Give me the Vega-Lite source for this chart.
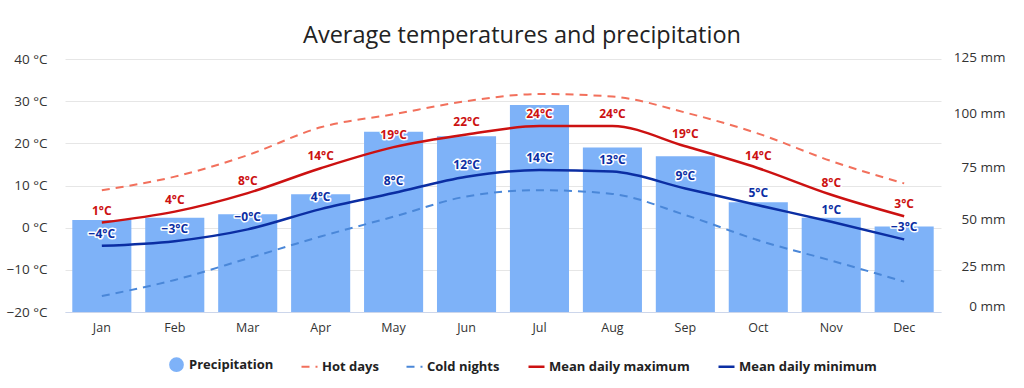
{
  "$schema": "https://vega.github.io/schema/vega-lite/v6.json",
  "width": 876,
  "height": 253,
  "autosize": "none",
  "padding": {"left": 65, "top": 59, "right": 83, "bottom": 76},
  "background": "white",
  "title": {
    "text": "Average temperatures and precipitation",
    "font": "Open Sans",
    "fontSize": 23.5,
    "fontWeight": "normal",
    "color": "#222222",
    "anchor": "middle",
    "baseline": "alphabetic",
    "offset": 10,
    "dx": 19,
    "dy": 26
  },
  "config": {
    "view": {"stroke": null},
    "font": "Open Sans",
    "axis": {"labelFont": "Open Sans", "labelColor": "#333333", "labelFontSize": 13}
  },
  "data": {
    "values": [
      {"month": "Jan", "precip": 52.6, "hot": 8.9, "cold": -16.2, "max": 1.2, "min": -4.3, "maxLabel": "1°C", "minLabel": "−4°C"},
      {"month": "Feb", "precip": 53.7, "hot": 12.1, "cold": -12.4, "max": 3.8, "min": -3.2, "maxLabel": "4°C", "minLabel": "−3°C"},
      {"month": "Mar", "precip": 55.4, "hot": 17.2, "cold": -7.3, "max": 8.2, "min": -0.4, "maxLabel": "8°C", "minLabel": "−0°C"},
      {"month": "Apr", "precip": 65.2, "hot": 23.8, "cold": -2.1, "max": 14.1, "min": 4.4, "maxLabel": "14°C", "minLabel": "4°C"},
      {"month": "May", "precip": 94.4, "hot": 26.9, "cold": 2.6, "max": 19.1, "min": 8.2, "maxLabel": "19°C", "minLabel": "8°C"},
      {"month": "Jun", "precip": 92.3, "hot": 30.0, "cold": 7.4, "max": 22.1, "min": 12.1, "maxLabel": "22°C", "minLabel": "12°C"},
      {"month": "Jul", "precip": 106.4, "hot": 31.7, "cold": 8.9, "max": 24.1, "min": 13.7, "maxLabel": "24°C", "minLabel": "14°C"},
      {"month": "Aug", "precip": 87.2, "hot": 31.1, "cold": 8.0, "max": 24.1, "min": 13.3, "maxLabel": "24°C", "minLabel": "13°C"},
      {"month": "Sep", "precip": 83.1, "hot": 27.3, "cold": 3.0, "max": 19.3, "min": 9.3, "maxLabel": "19°C", "minLabel": "9°C"},
      {"month": "Oct", "precip": 61.3, "hot": 22.3, "cold": -3.0, "max": 14.1, "min": 5.3, "maxLabel": "14°C", "minLabel": "5°C"},
      {"month": "Nov", "precip": 53.7, "hot": 15.8, "cold": -7.8, "max": 7.8, "min": 1.4, "maxLabel": "8°C", "minLabel": "1°C"},
      {"month": "Dec", "precip": 49.3, "hot": 10.5, "cold": -12.8, "max": 2.7, "min": -2.8, "maxLabel": "3°C", "minLabel": "−3°C"}
    ]
  },
  "encoding": {
    "x": {
      "field": "month",
      "type": "ordinal",
      "sort": null,
      "scale": {"paddingInner": 0.19, "paddingOuter": 0.1},
      "axis": {"title": null, "labelAngle": 0, "domainColor": "#ccd6eb", "ticks": false, "labelPadding": 9, "labelFontSize": 12.5}
    }
  },
  "layer": [
    {
      "mark": {"type": "bar"},
      "encoding": {
        "y": {
          "field": "precip",
          "type": "quantitative",
          "scale": {"type": "pow", "exponent": 1.15, "domain": [0, 125], "range": [253, 4], "nice": false, "zero": false},
          "axis": {
            "orient": "right",
            "title": null,
            "grid": false,
            "domain": false,
            "ticks": false,
            "tickSize": 0,
            "values": [0, 25, 50, 75, 100, 125],
            "labelExpr": "datum.label + ' mm'",
            "labelAlign": "right",
            "labelPadding": 64,
            "labelOffset": -6,
            "labelFontSize": 13.5
          }
        },
        "color": {
          "datum": "Precipitation",
          "type": "nominal",
          "scale": {
            "domain": ["Precipitation", "Hot days", "Cold nights", "Mean daily maximum", "Mean daily minimum"],
            "range": ["#7eb2f8", "#f2705c", "#4a87d8", "#cc1111", "#0b2ea3"]
          },
          "legend": {
            "orient": "none",
            "legendX": 105,
            "legendY": 299,
            "direction": "horizontal",
            "title": null,
            "symbolType": "stroke",
            "symbolSize": 256,
            "symbolStrokeWidth": 2.5,
            "labelFont": "Open Sans",
            "labelFontSize": 13,
            "labelFontWeight": "bold",
            "labelColor": "#222222",
            "labelOffset": 6,
            "columnPadding": 23,
            "encode": {
              "symbols": {
                "update": {
                  "shape": {"signal": "datum.value === 'Precipitation' ? 'circle' : 'stroke'"},
                  "size": {"signal": "datum.value === 'Precipitation' ? 150 : 256"},
                  "fill": {"signal": "datum.value === 'Precipitation' ? '#7eb2f8' : 'transparent'"},
                  "stroke": {"signal": "datum.value === 'Precipitation' ? 'transparent' : datum.value === 'Hot days' ? '#f2705c' : datum.value === 'Cold nights' ? '#4a87d8' : datum.value === 'Mean daily maximum' ? '#cc1111' : '#0b2ea3'"},
                  "strokeDash": {"signal": "(datum.value === 'Hot days' || datum.value === 'Cold nights') ? [8, 6] : []"},
                  "strokeWidth": {"signal": "(datum.value === 'Hot days' || datum.value === 'Cold nights') ? 2 : 2.5"}
                }
              }
            }
          }
        }
      }
    },
    {
      "layer": [
        {
          "mark": {"type": "line", "strokeDash": [8, 6], "strokeWidth": 2, "interpolate": "monotone"},
          "encoding": {
            "y": {
              "field": "hot",
              "type": "quantitative",
              "scale": {"domain": [-20, 40], "nice": false, "zero": false},
              "axis": {
                "orient": "left",
                "title": null,
                "grid": true,
                "gridColor": "#e6e6e6",
                "domain": false,
                "ticks": false,
                "tickSize": 0,
                "values": [-20, -10, 0, 10, 20, 30, 40],
                "labelExpr": "datum.label + ' °C'",
                "labelPadding": 18,
                "labelFontSize": 13.5
              }
            },
            "color": {"datum": "Hot days", "type": "nominal"}
          }
        },
        {
          "mark": {"type": "line", "strokeDash": [8, 6], "strokeWidth": 2, "interpolate": "monotone"},
          "encoding": {
            "y": {"field": "cold", "type": "quantitative"},
            "color": {"datum": "Cold nights", "type": "nominal"}
          }
        },
        {
          "mark": {"type": "line", "strokeWidth": 2.5, "interpolate": "monotone"},
          "encoding": {
            "y": {"field": "max", "type": "quantitative"},
            "color": {"datum": "Mean daily maximum", "type": "nominal"}
          }
        },
        {
          "mark": {"type": "line", "strokeWidth": 2.5, "interpolate": "monotone"},
          "encoding": {
            "y": {"field": "min", "type": "quantitative"},
            "color": {"datum": "Mean daily minimum", "type": "nominal"}
          }
        },
        {
          "mark": {"type": "text", "dy": -12, "fontSize": 12, "fontWeight": "bold", "font": "Open Sans", "stroke": "white", "strokeWidth": 3, "strokeJoin": "round", "fill": "white"},
          "encoding": {"y": {"field": "max", "type": "quantitative"}, "text": {"field": "maxLabel"}}
        },
        {
          "mark": {"type": "text", "dy": -12, "fontSize": 12, "fontWeight": "bold", "font": "Open Sans", "fill": "#cc1111"},
          "encoding": {"y": {"field": "max", "type": "quantitative"}, "text": {"field": "maxLabel"}}
        },
        {
          "mark": {"type": "text", "dy": -12, "fontSize": 12, "fontWeight": "bold", "font": "Open Sans", "stroke": "white", "strokeWidth": 3, "strokeJoin": "round", "fill": "white"},
          "encoding": {"y": {"field": "min", "type": "quantitative"}, "text": {"field": "minLabel"}}
        },
        {
          "mark": {"type": "text", "dy": -12, "fontSize": 12, "fontWeight": "bold", "font": "Open Sans", "fill": "#0b2ea3"},
          "encoding": {"y": {"field": "min", "type": "quantitative"}, "text": {"field": "minLabel"}}
        }
      ]
    }
  ],
  "resolve": {"scale": {"y": "independent"}}
}
